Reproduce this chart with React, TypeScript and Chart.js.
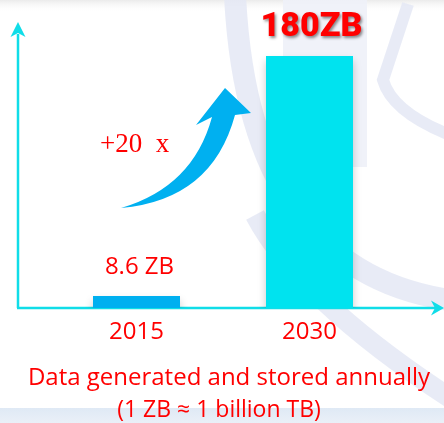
import React, { useEffect, useRef } from 'react';
import { Chart, registerables } from 'chart.js';
Chart.register(...registerables);

const years = ['2015', '2030'];
const volumesZB = [8.6, 180];
const valueLabels = ['8.6 ZB', '180ZB'];
const barColors = ['#00b0f0', '#00e3ef'];
const titleLines = ['Data generated and stored annually', '(1 ZB ≈ 1 billion TB)'];
const growthLabel = '+20  x';
const yMax = 200;

const RED = '#ff0000';
const AXIS = '#10dde8';
const ARROW = '#00b0f0';
const SANS = '"Open Sans", "Noto Sans", sans-serif';
const WM = 'rgba(228,232,244,0.85)';

export default function App() {
  const ref = useRef<HTMLCanvasElement>(null);

  useEffect(() => {
    const canvas = ref.current!;
    const decor = {
      id: 'decor',
      beforeDraw(chart: any) {
        const { ctx, width, height } = chart;
        ctx.save();
        ctx.fillStyle = '#ffffff';
        ctx.fillRect(0, 0, width, height);
        // faint top gradient
        const tg = ctx.createLinearGradient(0, 0, 0, 12);
        tg.addColorStop(0, '#ebebeb');
        tg.addColorStop(1, 'rgba(255,255,255,0)');
        ctx.fillStyle = tg;
        ctx.fillRect(0, 0, width, 12);
        // watermark
        ctx.fillStyle = 'rgba(238,241,248,0.9)';
        ctx.fillRect(283, 0, 84, 167);
        ctx.strokeStyle = WM;
        ctx.lineCap = 'butt';
        ctx.lineWidth = 22;
        ctx.beginPath();
        ctx.moveTo(235, -5);
        ctx.quadraticCurveTo(248, 270, 450, 300);
        ctx.stroke();
        ctx.lineWidth = 20;
        ctx.beginPath();
        ctx.moveTo(255, 215);
        ctx.quadraticCurveTo(300, 300, 450, 398);
        ctx.stroke();
        ctx.lineWidth = 12;
        ctx.beginPath();
        ctx.moveTo(408, 4);
        ctx.lineTo(383, 80);
        ctx.quadraticCurveTo(392, 112, 450, 135);
        ctx.stroke();
        // bottom band
        const bg = ctx.createLinearGradient(0, 408, 0, 423);
        bg.addColorStop(0, '#dfe9f5');
        bg.addColorStop(1, '#eaf0f8');
        ctx.fillStyle = bg;
        ctx.fillRect(0, 408, width, 15);
        ctx.restore();
      },
      beforeDatasetsDraw(chart: any) {
        const { ctx, chartArea, width } = chart;
        const y0 = chart.scales.y.getPixelForValue(0);
        const ax = chartArea.left - 32;
        ctx.save();
        ctx.strokeStyle = AXIS;
        ctx.fillStyle = AXIS;
        ctx.lineWidth = 2.5;
        ctx.beginPath();
        ctx.moveTo(ax, y0);
        ctx.lineTo(ax, 34);
        ctx.moveTo(ax - 1, y0);
        ctx.lineTo(width - 8, y0);
        ctx.stroke();
        // y arrow head
        ctx.beginPath();
        ctx.moveTo(ax, 22);
        ctx.lineTo(ax + 7.5, 37);
        ctx.lineTo(ax, 33);
        ctx.lineTo(ax - 7.5, 37);
        ctx.closePath();
        ctx.fill();
        // x arrow head
        ctx.beginPath();
        ctx.moveTo(width, y0);
        ctx.lineTo(width - 13, y0 - 7.5);
        ctx.lineTo(width - 9, y0);
        ctx.lineTo(width - 13, y0 + 7.5);
        ctx.closePath();
        ctx.fill();
        ctx.restore();
      },
      beforeDatasetDraw(chart: any) {
        const { ctx } = chart;
        ctx.save();
        ctx.shadowColor = 'rgba(0,0,0,0.22)';
        ctx.shadowBlur = 8;
        ctx.shadowOffsetY = 5;
      },
      afterDatasetDraw(chart: any) {
        chart.ctx.restore();
      },
      afterDatasetsDraw(chart: any) {
        const { ctx } = chart;
        const meta = chart.getDatasetMeta(0);
        const xs = chart.scales.x;
        const y0 = chart.scales.y.getPixelForValue(0);
        ctx.save();
        ctx.textAlign = 'center';
        ctx.textBaseline = 'alphabetic';
        // value labels
        const b0 = meta.data[0];
        ctx.fillStyle = RED;
        ctx.font = `24px ${SANS}`;
        ctx.fillText(valueLabels[0], b0.x + 3, b0.y - 22);
        const b1 = meta.data[1];
        ctx.save();
        ctx.shadowColor = 'rgba(0,0,0,0.45)';
        ctx.shadowBlur = 3;
        ctx.shadowOffsetX = 1.5;
        ctx.shadowOffsetY = 1.5;
        ctx.font = `900 34px Roboto, sans-serif`;
        ctx.fillText(valueLabels[1], b1.x + 2, b1.y - 20);
        ctx.restore();
        // category labels
        ctx.font = `24px ${SANS}`;
        years.forEach((yr, i) => {
          ctx.fillText(yr, xs.getPixelForValue(i), y0 + 31);
        });
        // title lines
        ctx.font = `24px ${SANS}`;
        ctx.fillText(titleLines[0], 229, 385);
        ctx.font = `23px ${SANS}`;
        ctx.fillText(titleLines[1], 219, 417);
        // growth label
        ctx.textAlign = 'left';
        ctx.font = `27px "Liberation Serif", serif`;
        ctx.fillText(growthLabel, 100, 152);
        // curved arrow
        ctx.fillStyle = ARROW;
        ctx.beginPath();
        ctx.moveTo(121, 208);
        ctx.quadraticCurveTo(212, 200, 235, 115);
        ctx.lineTo(251, 113);
        ctx.lineTo(225, 88);
        ctx.lineTo(196, 125);
        ctx.lineTo(212, 117);
        ctx.quadraticCurveTo(193, 187, 121, 208);
        ctx.closePath();
        ctx.fill();
        ctx.restore();
      },
    };

    const chart = new Chart(canvas, {
      type: 'bar',
      data: {
        labels: years,
        datasets: [
          {
            data: volumesZB,
            backgroundColor: barColors,
            borderWidth: 0,
            categoryPercentage: 1,
            barPercentage: 87 / 173,
          },
        ],
      },
      options: {
        responsive: false,
        maintainAspectRatio: false,
        animation: false,
        devicePixelRatio: 1,
        layout: { padding: { left: 50, right: 48, top: 28, bottom: 115 } },
        scales: {
          x: { display: false, offset: true },
          y: { display: false, min: 0, max: yMax },
        },
        plugins: { legend: { display: false }, tooltip: { enabled: false } },
        events: [],
      },
      plugins: [decor],
    } as any);
    return () => chart.destroy();
  }, []);

  return (
    <div style={{ position: 'fixed', left: 0, top: 0, width: 444, height: 423 }}>
      <canvas ref={ref} width={444} height={423} style={{ display: 'block', width: 444, height: 423 }} />
    </div>
  );
}
